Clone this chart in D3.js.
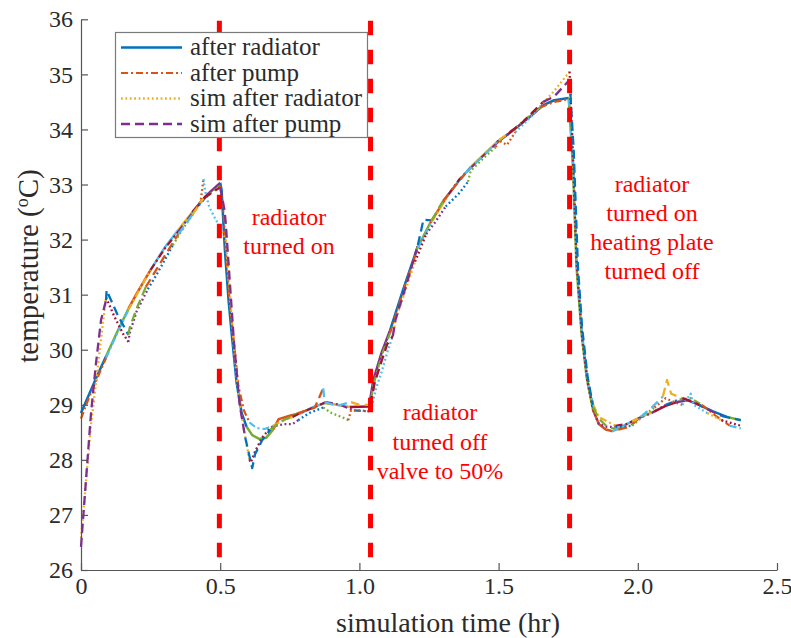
<!DOCTYPE html>
<html><head><meta charset="utf-8">
<script src="https://cdn.jsdelivr.net/npm/d3@7"></script>
<style>
body{margin:0;background:#fff}
svg{display:block}
text{font-family:"Liberation Serif","Times New Roman",serif}
</style>
</head><body>
<svg id="chart" width="791" height="638"></svg>
<script>
// ---------------- data ----------------
const xTicks = [0, 0.5, 1.0, 1.5, 2.0, 2.5];
const yTicks = [26, 27, 28, 29, 30, 31, 32, 33, 34, 35, 36];
const eventTimes = [0.497, 1.04, 1.755];
const seriesNames = ["after radiator", "after pump", "sim after radiator", "sim after pump"];
const annotationLines = [
  ["radiator", "turned on"],
  ["radiator", "turned off", "valve to 50%"],
  ["radiator", "turned on", "heating plate", "turned off"]
];
// times (hr) at which a new plotted chunk starts (MATLAB colour order cycles per chunk)
const chunkStarts = [0, 0.09, 0.17, 0.25, 0.33, 0.4, 0.44, 0.5, 0.6, 0.7, 0.78, 0.87, 0.96, 1.04,
  1.12, 1.2, 1.25, 1.31, 1.39, 1.49, 1.56, 1.66, 1.755, 1.84, 1.92, 2.0, 2.08, 2.16, 2.24, 2.31];

const afterRadiator = [[0,28.85],[0.03,29.2],[0.06,29.55],[0.09,29.88],[0.13,30.32],[0.17,30.74],[0.2,31.02],
  [0.25,31.45],[0.3,31.85],[0.35,32.18],[0.4,32.5],[0.45,32.8],[0.5,33.03],[0.505,32.9],[0.517,31.8],[0.53,30.9],
  [0.541,30.3],[0.559,29.4],[0.577,28.85],[0.595,28.6],[0.615,28.45],[0.64,28.38],[0.665,28.4],[0.69,28.55],
  [0.71,28.74],[0.75,28.8],[0.79,28.85],[0.83,28.95],[0.876,29.03],[0.92,29.0],[0.966,28.96],[1.035,28.97],
  [1.05,29.45],[1.08,29.95],[1.11,30.35],[1.157,31.09],[1.206,31.82],[1.254,32.3],[1.314,32.78],[1.36,33.08],
  [1.4,33.32],[1.45,33.56],[1.494,33.77],[1.53,33.9],[1.566,34.04],[1.61,34.22],[1.66,34.44],[1.7,34.53],
  [1.752,34.57],[1.767,33.32],[1.78,31.5],[1.798,30.3],[1.816,29.51],[1.839,28.91],[1.86,28.65],[1.885,28.55],
  [1.91,28.52],[1.94,28.6],[1.98,28.7],[2.02,28.8],[2.06,28.88],[2.1,28.98],[2.14,29.05],[2.18,29.08],
  [2.22,29.0],[2.27,28.88],[2.32,28.78],[2.37,28.72]];

const afterPump = [[0,28.75],[0.03,29.15],[0.06,29.5],[0.09,29.85],[0.13,30.3],[0.17,30.72],[0.2,31.0],
  [0.25,31.45],[0.3,31.83],[0.35,32.15],[0.4,32.48],[0.45,32.78],[0.5,32.98],[0.51,32.6],[0.522,31.7],
  [0.535,30.8],[0.548,30.2],[0.565,29.35],[0.585,28.9],[0.605,28.68],[0.63,28.58],[0.66,28.56],[0.69,28.62],
  [0.72,28.7],[0.76,28.78],[0.8,28.88],[0.85,28.98],[0.88,29.05],[0.93,29.0],[0.98,28.9],[1.035,28.88],
  [1.05,29.35],[1.08,29.9],[1.11,30.3],[1.16,31.1],[1.21,31.85],[1.26,32.32],[1.32,32.82],[1.36,33.1],
  [1.4,33.3],[1.45,33.55],[1.5,33.78],[1.55,33.98],[1.6,34.2],[1.65,34.4],[1.7,34.5],[1.752,34.55],
  [1.768,33.4],[1.782,31.5],[1.8,30.3],[1.818,29.5],[1.84,29.0],[1.86,28.78],[1.89,28.7],[1.92,28.62],
  [1.96,28.65],[2.0,28.75],[2.05,28.85],[2.1,29.0],[2.15,29.1],[2.19,29.12],[2.23,29.0],[2.28,28.8],
  [2.33,28.62],[2.37,28.57]];

const simAfterRadiator = [[0,26.58],[0.008,27.03],[0.035,28.6],[0.055,29.45],[0.08,30.54],[0.09,30.95],
  [0.12,30.6],[0.15,30.3],[0.17,30.14],[0.175,30.3],[0.2,30.7],[0.24,31.1],[0.27,31.35],[0.3,31.62],
  [0.33,31.9],[0.36,32.15],[0.4,32.45],[0.43,32.7],[0.44,33.1],[0.445,32.9],[0.46,32.6],[0.48,32.4],
  [0.5,32.22],[0.52,32.0],[0.535,31.0],[0.55,30.0],[0.565,29.2],[0.585,28.55],[0.605,28.0],[0.61,27.95],
  [0.625,28.15],[0.65,28.4],[0.68,28.58],[0.7,28.62],[0.73,28.65],[0.76,28.65],[0.78,28.72],[0.82,28.85],
  [0.87,28.95],[0.9,28.85],[0.95,28.75],[0.96,28.72],[0.97,28.9],[1.0,28.9],[1.04,28.88],[1.06,29.3],
  [1.08,29.6],[1.1,29.95],[1.12,30.25],[1.13,30.55],[1.16,31.0],[1.2,31.6],[1.24,32.1],[1.27,32.3],
  [1.31,32.6],[1.33,32.7],[1.36,32.85],[1.39,33.05],[1.4,33.25],[1.45,33.5],[1.49,33.68],[1.5,33.8],
  [1.53,33.72],[1.56,33.95],[1.6,34.15],[1.63,34.3],[1.66,34.48],[1.7,34.7],[1.755,35.05],[1.765,33.8],
  [1.78,31.6],[1.8,30.2],[1.82,29.4],[1.84,28.9],[1.86,28.65],[1.89,28.6],[1.92,28.6],[1.95,28.6],
  [1.98,28.62],[2.02,28.8],[2.06,28.95],[2.1,29.12],[2.13,29.05],[2.16,29.0],[2.19,29.2],[2.2,29.0],
  [2.25,28.85],[2.3,28.72],[2.37,28.62]];

const simAfterPump = [[0,26.42],[0.018,27.64],[0.036,28.85],[0.054,29.76],[0.072,30.54],[0.09,30.9],
  [0.092,31.08],[0.13,30.65],[0.17,30.27],[0.175,30.4],[0.2,30.75],[0.233,31.14],[0.27,31.45],[0.3,31.7],
  [0.35,32.1],[0.4,32.45],[0.44,32.75],[0.47,32.85],[0.5,32.95],[0.515,32.55],[0.52,32.3],[0.535,31.2],
  [0.55,30.1],[0.57,29.0],[0.59,28.4],[0.615,27.85],[0.625,28.1],[0.65,28.35],[0.68,28.55],[0.72,28.7],
  [0.78,28.85],[0.84,28.95],[0.87,29.3],[0.875,29.05],[0.92,28.98],[0.97,29.05],[1.0,29.0],[1.04,29.0],
  [1.055,29.4],[1.08,29.8],[1.1,30.1],[1.12,30.25],[1.13,30.55],[1.17,31.2],[1.21,31.9],[1.23,32.36],
  [1.26,32.35],[1.3,32.7],[1.34,32.95],[1.38,33.2],[1.42,33.4],[1.46,33.6],[1.5,33.8],[1.54,33.95],
  [1.58,34.1],[1.62,34.3],[1.66,34.5],[1.7,34.6],[1.755,34.9],[1.77,33.6],[1.785,31.5],[1.8,30.4],
  [1.82,29.5],[1.84,28.95],[1.86,28.75],[1.89,28.6],[1.93,28.55],[1.97,28.6],[2.01,28.78],[2.05,28.95],
  [2.09,29.15],[2.105,29.45],[2.12,29.2],[2.16,29.12],[2.2,29.05],[2.25,28.92],[2.3,28.8],[2.37,28.72]];

// ---------------- styles ----------------
const colorOrder = ["#0072BD","#D95319","#EDB120","#7E2F8E","#77AC30","#4DBEEE","#A2142F"];
const dashes = [null, "7,3,2,3", "1.8,2.6", "9,5"];
const widths = [2.5, 2.2, 2.3, 2.3];

// ---------------- layout ----------------
const svg = d3.select("#chart");
const x = d3.scaleLinear().domain([0, 2.5]).range([81, 777]);
const y = d3.scaleLinear().domain([26, 36]).range([570, 19.3]);
const axisColor = "#555";
const textColor = "#2b2b2b";

// data lines, chunked with cycling colours
const allSeries = [afterRadiator, afterPump, simAfterRadiator, simAfterPump];
function chunkIndex(t){ let k = 0; chunkStarts.forEach((c,i)=>{ if (t >= c) k = i; }); return k; }
const groups = [];
allSeries.forEach((data, s) => {
  let cur = null;
  for (let i = 0; i < data.length - 1; i++) {
    const k = chunkIndex((data[i][0] + data[i+1][0]) / 2);
    if (!cur || cur.k !== k) { cur = {k, s, pts: [data[i]]}; groups.push(cur); }
    cur.pts.push(data[i+1]);
  }
});
groups.sort((a,b) => a.k - b.k || a.s - b.s);
const line = d3.line().x(d => x(d[0])).y(d => y(d[1]));
svg.append("g").selectAll("path").data(groups).join("path")
  .attr("d", g => line(g.pts))
  .attr("fill", "none")
  .attr("stroke", g => colorOrder[(4 * g.k + g.s) % colorOrder.length])
  .attr("stroke-width", g => widths[g.s])
  .attr("stroke-dasharray", g => dashes[g.s])
  .attr("stroke-linejoin", "round");

// event lines
svg.append("g").selectAll("line").data(eventTimes).join("line")
  .attr("x1", d => x(d)).attr("x2", d => x(d))
  .attr("y1", y(36) + 1.5).attr("y2", y(26))
  .attr("stroke", "#ff0000").attr("stroke-width", 5)
  .attr("stroke-dasharray", "14.5,14.5");

// axes
const yAxis = d3.axisLeft(y).tickValues(yTicks).tickSize(-7).tickSizeOuter(0).tickPadding(8)
  .tickFormat(d3.format("d"));
const xAxis = d3.axisBottom(x).tickValues(xTicks).tickSize(-7).tickSizeOuter(0).tickPadding(7)
  .tickFormat(d => d === 0 ? "0" : d.toFixed(1));
const gy = svg.append("g").attr("transform", `translate(${x(0)},0)`).call(yAxis);
const gx = svg.append("g").attr("transform", `translate(0,${y(26)})`).call(xAxis);
[gx, gy].forEach(g => {
  g.select(".domain").attr("stroke", axisColor).attr("stroke-width", 1.2);
  g.selectAll(".tick line").attr("stroke", axisColor).attr("stroke-width", 1.2);
  g.selectAll(".tick text").attr("fill", textColor).style("font-size", "24px")
    .style("font-family", '"Liberation Serif", serif');
});

// axis labels
svg.append("text").attr("x", 448).attr("y", 632).attr("text-anchor", "middle")
  .attr("fill", textColor).style("font-size", "28px").text("simulation time (hr)");
const yl = svg.append("text").attr("transform", "translate(38,266) rotate(-90)")
  .attr("text-anchor", "middle").attr("fill", textColor).style("font-size", "29px");
yl.append("tspan").text("temperature (");
yl.append("tspan").attr("dy", -10).style("font-size", "18px").text("o");
yl.append("tspan").attr("dy", 10).text("C)");

// annotations
const annAnchors = [[289, 225, 29], [440, 420, 29.5], [652, 192, 29]];
annotationLines.forEach((lines, i) => {
  const [ax, ay, lh] = annAnchors[i];
  svg.append("g").selectAll("text").data(lines).join("text")
    .attr("x", ax).attr("y", (d, j) => ay + j * lh)
    .attr("text-anchor", "middle").attr("fill", "#ff0000").style("font-size", "24px")
    .text(d => d);
});

// legend
const lg = svg.append("g");
lg.append("rect").attr("x", 115.5).attr("y", 32.5).attr("width", 252).attr("height", 105)
  .attr("fill", "#fff").attr("stroke", "#7a7a7a").attr("stroke-width", 1.2);
seriesNames.forEach((name, s) => {
  const ly = 47.5 + s * 25.5;
  lg.append("line").attr("x1", 121).attr("x2", 182).attr("y1", ly).attr("y2", ly)
    .attr("stroke", colorOrder[s]).attr("stroke-width", widths[s]).attr("stroke-dasharray", dashes[s]);
  lg.append("text").attr("x", 190).attr("y", ly + 7.5).attr("fill", textColor)
    .style("font-size", "25px").text(name);
});
</script>
</body></html>
